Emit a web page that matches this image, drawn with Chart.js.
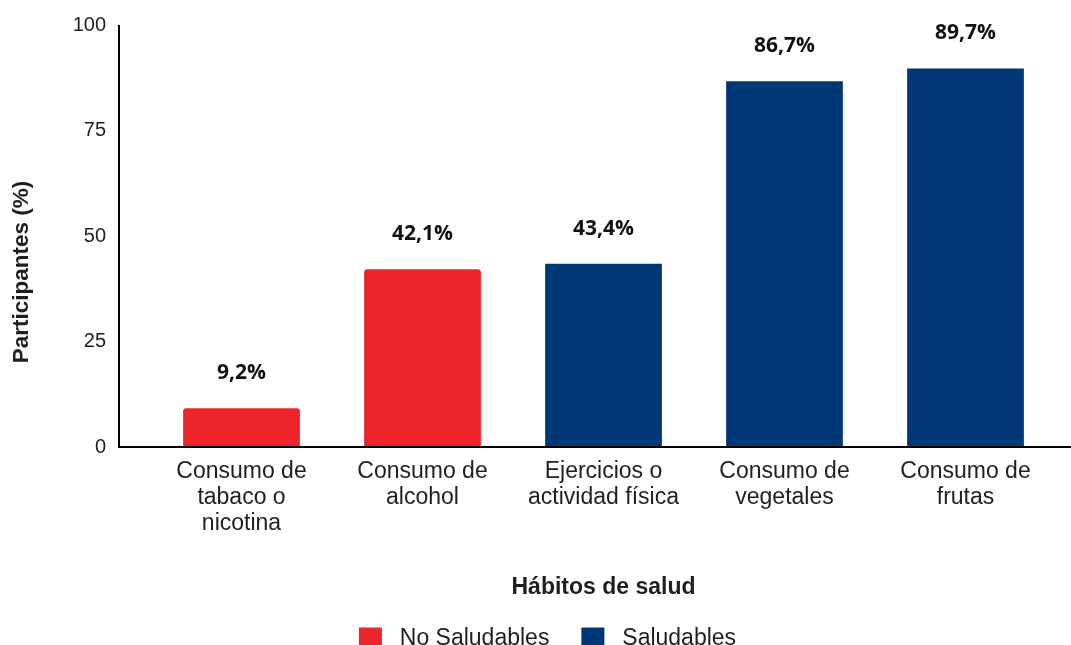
<!DOCTYPE html>
<html>
<head>
<meta charset="utf-8">
<script src="https://cdn.jsdelivr.net/npm/chart.js@4.4.1/dist/chart.umd.min.js"></script>
<style>
  html, body { margin: 0; padding: 0; background: #fff; overflow: hidden; }
  #wrap { position: relative; width: 1071px; height: 660px; }
</style>
</head>
<body>
<div id="wrap"><canvas id="chart"></canvas></div>
<script>
// Health habits among participants (%)
const categories = [
  ['Consumo de', 'tabaco o', 'nicotina'],
  ['Consumo de', 'alcohol'],
  ['Ejercicios o', 'actividad física'],
  ['Consumo de', 'vegetales'],
  ['Consumo de', 'frutas']
];
const noSaludables = [9.2, 42.1, null, null, null];
const saludables   = [null, null, 43.4, 86.7, 89.7];
const yTicks = [0, 25, 50, 75, 100];

const RED = '#EC252D';
const BLUE = '#003876';
const TEXT = '#1f1f1f';
const SANS = '"Liberation Sans", Arial, Helvetica, sans-serif';

// Value labels above each bar, formatted with a decimal comma
const valueLabels = {
  id: 'valueLabels',
  afterDatasetsDraw(chart) {
    const ctx = chart.ctx;
    ctx.save();
    ctx.font = 'bold 21px "Open Sans", "Liberation Sans", Arial, sans-serif';
    ctx.fillStyle = '#111';
    ctx.textAlign = 'center';
    ctx.textBaseline = 'middle';
    chart.data.datasets.forEach((ds, di) => {
      const meta = chart.getDatasetMeta(di);
      meta.data.forEach((bar, i) => {
        const v = ds.data[i];
        if (v === null || v === undefined) return;
        ctx.fillText(v.toFixed(1).replace('.', ',') + '%', bar.x, bar.y - 35);
      });
    });
    ctx.restore();
  }
};

// Axis lines (the y axis sits a little left of the first category)
// and the rotated y title
const axisDecor = {
  id: 'axisDecor',
  afterDraw(chart) {
    const { ctx, chartArea, width } = chart;
    const axisX = chartArea.left - 32;
    ctx.save();
    ctx.strokeStyle = '#000';
    ctx.lineWidth = 2;
    ctx.beginPath();
    ctx.moveTo(axisX, chartArea.top);
    ctx.lineTo(axisX, chartArea.bottom);
    ctx.lineTo(width, chartArea.bottom);
    ctx.stroke();

    ctx.translate(22, chartArea.top + 247);
    ctx.rotate(-Math.PI / 2);
    ctx.font = 'bold 22.5px ' + SANS;
    ctx.fillStyle = TEXT;
    ctx.textAlign = 'center';
    ctx.textBaseline = 'middle';
    ctx.fillText('Participantes (%)', 0, 0);
    ctx.restore();
  }
};

new Chart(document.getElementById('chart'), {
  type: 'bar',
  data: {
    labels: categories,
    datasets: [
      {
        label: 'No Saludables',
        data: noSaludables,
        backgroundColor: RED,
        borderRadius: { topLeft: 3, topRight: 3 },
        borderSkipped: false
      },
      {
        label: 'Saludables',
        data: saludables,
        backgroundColor: BLUE
      }
    ]
  },
  options: {
    responsive: true,
    maintainAspectRatio: false,
    animation: false,
    layout: { padding: { top: 25, left: 39, right: 15, bottom: 0 } },
    datasets: { bar: { categoryPercentage: 1, barPercentage: 0.645 } },
    scales: {
      x: {
        stacked: true,
        grid: { display: false, drawTicks: false },
        border: { display: false },
        ticks: {
          color: TEXT,
          padding: 11,
          maxRotation: 0,
          autoSkip: false,
          font: { family: SANS, size: 23, lineHeight: 1.15 }
        },
        title: {
          display: true,
          text: 'Hábitos de salud',
          color: TEXT,
          font: { family: SANS, size: 23, weight: 'bold', lineHeight: 1.2 },
          padding: { top: 0, bottom: -6 }
        },
        afterFit(scale) { scale.height = 148; }
      },
      y: {
        stacked: true,
        min: 0,
        max: 100,
        afterBuildTicks(scale) { scale.ticks = yTicks.map(v => ({ value: v })); },
        grid: { display: false, drawTicks: true, tickLength: 43 },
        border: { display: false },
        ticks: {
          color: TEXT,
          padding: 2,
          font: { family: SANS, size: 20 }
        },
        afterFit(scale) { scale.width = 112; }
      }
    },
    plugins: {
      legend: {
        position: 'bottom',
        labels: {
          color: TEXT,
          boxWidth: 23,
          boxHeight: 22,
          padding: 32,
          font: { family: SANS, size: 23 },
          generateLabels(chart) {
            return Chart.defaults.plugins.legend.labels.generateLabels(chart)
              .map(item => Object.assign(item, { text: ' ' + item.text }));
          }
        }
      },
      tooltip: { enabled: false }
    }
  },
  plugins: [valueLabels, axisDecor]
});
</script>
</body>
</html>
